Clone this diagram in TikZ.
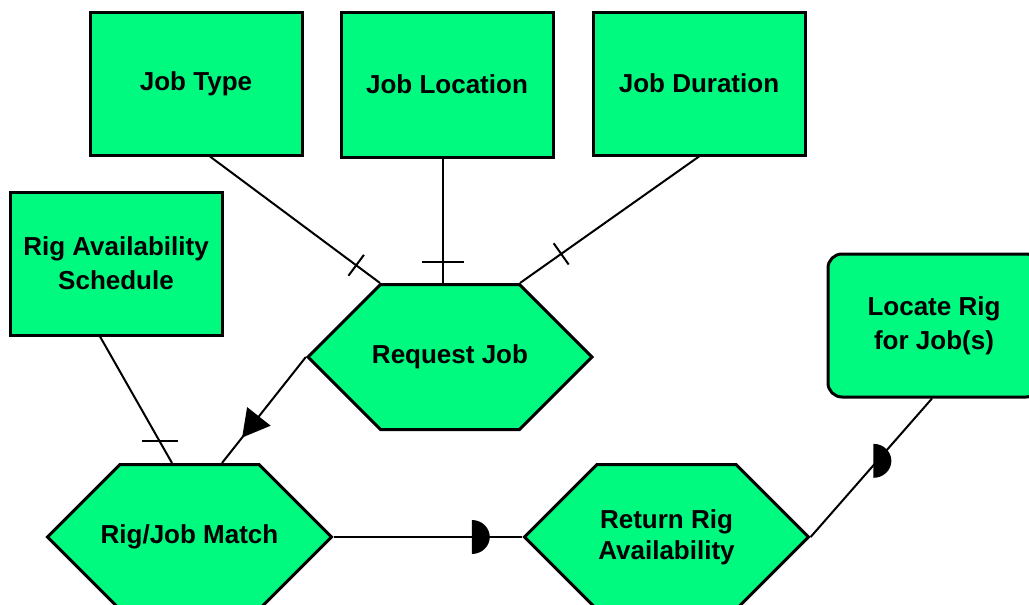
\documentclass[tikz,border=0pt]{standalone}
\usepackage{fontspec}
\setmainfont{Liberation Sans}
\usetikzlibrary{shapes.symbols,decorations.markings}
\definecolor{idefgreen}{RGB}{0,250,128}
\tikzstyle{block} = [rectangle, draw, line width=3pt, fill=idefgreen,
    minimum width=212pt, minimum height=143pt, align=center,
    font=\fontsize{26}{34}\selectfont\bfseries]
\tikzstyle{activity} = [signal, signal to=east and west, signal pointer angle=90,
    draw, line width=3pt, fill=idefgreen, minimum width=284pt, minimum height=145pt,
    inner ysep=0pt, inner xsep=-28pt, align=center, font=\fontsize{26}{31}\selectfont\bfseries]
\tikzset{crossbar/.style={postaction=decorate,
    decoration={markings, mark=at position #1 with {\draw (0,-13pt) -- (0,13pt);}}}}

\begin{document}
\begin{tikzpicture}[x=1pt,y=-1pt,line width=2pt]
  \useasboundingbox[fill=white] (0,0) rectangle (1029,605);
  \node[block] (jobType) at (196,83.5) {Job Type};
  \node[block, minimum height=145pt] (jobLoc) at (447,84.5) {Job Location};
  \node[block] (jobDur) at (699,83.5) {Job Duration};
  \node[block] (rigSched) at (116,263.5) {Rig Availability\\Schedule};
  \node[block, rounded corners=14pt] (locRig) at (934,325.5) {Locate Rig\\for Job(s)};
  \node[activity] (reqJob) at (450,357) {Request Job};
  \node[activity] (match) at (189.5,537) {Rig/Job Match};
  \node[activity] (retRig) at (666.5,537) {Return Rig\\Availability};

  % inputs to Request Job
  \draw[crossbar=0.86] ([xshift=14pt]jobType.south) -- ([xshift=-70pt]reqJob.north);
  \draw ([xshift=-4pt]jobLoc.south) -- coordinate[pos=0.83] (locTick)
        ([xshift=-4pt]jobLoc.south |- reqJob.north);
  \draw ([xshift=-21pt]locTick) -- ([xshift=21pt]locTick);
  \draw[crossbar=0.77] (jobDur.south) -- ([xshift=70pt]reqJob.north);

  % schedule into match
  \draw ([xshift=-16pt]rigSched.south) -- coordinate[pos=0.83] (schedTick)
        ([xshift=-17.5pt]match.north);
  \draw ([xshift=-18pt]schedTick) -- ([xshift=18pt]schedTick);
  \draw[postaction=decorate, decoration={markings, mark=at position 0.76 with
        {\fill (0,0) -- (-27pt,15pt) -- (-27pt,-15pt) -- cycle;}}]
        (reqJob.west) -- ([xshift=32.5pt]match.north);

  % outputs
  \draw (match.east) -- coordinate[pos=0.753] (dotA) (retRig.west);
  \draw (retRig.east) -- coordinate[pos=0.55] (dotB) ([xshift=-2pt]locRig.south);
  \foreach \d in {dotA,dotB}
    \fill ([shift={(-4pt,-17pt)}]\d) -- ++(0pt,34pt)
          arc[start angle=90, end angle=-90, x radius=18pt, y radius=17pt] -- cycle;
\end{tikzpicture}
\end{document}
